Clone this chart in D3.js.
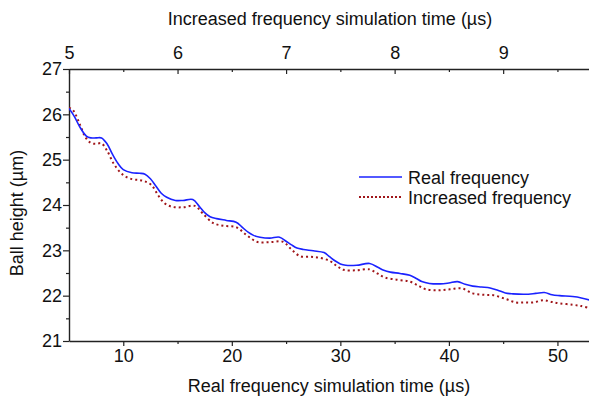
<!DOCTYPE html>
<html>
<head>
<meta charset="utf-8">
<script src="https://cdn.jsdelivr.net/npm/d3@7"></script>
<style>
  body { margin: 0; background: #fff; }
  svg { display: block; font-family: "Liberation Sans", Arial, sans-serif; }
</style>
</head>
<body>
<div id="chart"></div>
<script>
// real frequency run (blue, solid)
const realTime = [5.0, 5.5, 6.0, 6.6, 7.0, 7.5, 8.0, 8.5, 9.0, 9.5, 10.0, 10.8, 11.5, 12.0, 12.5, 13.0, 13.5, 14.0, 14.8, 15.5, 16.4, 17.0, 17.5, 18.0, 18.6, 19.5, 20.4, 21.0, 21.5, 22.0, 22.6, 23.5, 24.4, 25.0, 25.5, 26.0, 26.6, 27.5, 28.5, 29.0, 29.5, 30.0, 30.5, 31.5, 32.7, 33.5, 34.0, 34.6, 35.5, 36.4, 37.0, 37.5, 38.2, 39.2, 40.0, 40.8, 41.5, 42.2, 43.0, 43.8, 44.5, 45.2, 45.9, 47.0, 48.0, 48.8, 49.5, 50.2, 51.4, 52.2, 53.0]
const realHeight = [26.13, 25.95, 25.72, 25.52, 25.48, 25.48, 25.48, 25.35, 25.12, 24.92, 24.78, 24.71, 24.70, 24.68, 24.58, 24.42, 24.26, 24.17, 24.10, 24.10, 24.12, 23.97, 23.83, 23.74, 23.70, 23.66, 23.62, 23.50, 23.40, 23.33, 23.29, 23.27, 23.29, 23.20, 23.12, 23.05, 23.02, 22.99, 22.95, 22.86, 22.77, 22.70, 22.67, 22.67, 22.71, 22.62, 22.56, 22.52, 22.49, 22.45, 22.38, 22.31, 22.27, 22.26, 22.28, 22.31, 22.25, 22.21, 22.19, 22.17, 22.12, 22.06, 22.04, 22.03, 22.05, 22.07, 22.02, 22.00, 21.98, 21.95, 21.90]

// increased frequency run (dark red, dotted), plotted on the real time axis
const incTime = [5.0, 5.4, 6.0, 6.5, 7.0, 7.5, 8.0, 8.5, 9.2, 10.0, 10.8, 11.5, 12.0, 12.6, 13.2, 13.8, 14.5, 15.5, 16.6, 17.3, 18.3, 19.3, 20.4, 21.3, 22.3, 23.5, 24.7, 25.5, 26.3, 27.2, 28.0, 29.0, 29.7, 30.3, 31.5, 32.7, 33.4, 34.1, 35.3, 36.4, 37.2, 37.9, 39.0, 40.1, 41.2, 42.2, 43.2, 44.1, 45.2, 46.2, 47.0, 47.8, 48.7, 49.5, 50.2, 51.4, 52.2, 53.0]
const incHeight = [26.15, 26.08, 25.78, 25.50, 25.37, 25.35, 25.36, 25.20, 24.88, 24.66, 24.57, 24.55, 24.52, 24.44, 24.22, 24.04, 23.96, 23.95, 23.98, 23.82, 23.60, 23.54, 23.51, 23.35, 23.19, 23.18, 23.19, 23.02, 22.87, 22.86, 22.84, 22.77, 22.65, 22.57, 22.56, 22.58, 22.49, 22.40, 22.35, 22.31, 22.22, 22.14, 22.12, 22.14, 22.16, 22.05, 22.02, 22.01, 21.93, 21.85, 21.85, 21.85, 21.90, 21.86, 21.83, 21.80, 21.77, 21.72]

const bottomTicks = [10, 20, 30, 40, 50]
const bottomMinor = [15, 25, 35, 45]
const topTicks = [5, 6, 7, 8, 9]
const topMinor = [5.5, 6.5, 7.5, 8.5, 9.5]
const leftTicks = [21, 22, 23, 24, 25, 26, 27]
const leftMinor = [21.5, 22.5, 23.5, 24.5, 25.5, 26.5]

const seriesNames = ["Real frequency", "Increased frequency"]

const width = 589
const height = 399
const margin = {top: 69, right: -1, bottom: 58, left: 69}
const axisColor = "#222"
const fontSize = 18

const svg = d3.select("#chart")
  .append("svg")
  .attr("width", width)
  .attr("height", height)

const x = d3.scaleLinear()
  .domain([5, 53])
  .range([margin.left, width - margin.right])

// top axis: increased frequency time, 10x faster
const xTop = d3.scaleLinear()
  .domain([5, 9.8])
  .range([margin.left, width - margin.right])

const y = d3.scaleLinear()
  .domain([21, 27])
  .range([height - margin.bottom, margin.top])

function styleAxis(g){
  g.select(".domain").attr("stroke", axisColor).attr("stroke-width", 1.4)
  g.selectAll(".tick line").attr("stroke", axisColor).attr("stroke-width", 1.2)
  g.selectAll(".tick text").attr("fill", "#111").attr("font-size", fontSize)
    .attr("font-family", "Liberation Sans, Arial, sans-serif")
}

// bottom
svg.append("g")
  .attr("transform", `translate(0,${y(21)})`)
  .call(d3.axisBottom(x).tickValues(bottomMinor).tickSize(3).tickFormat(""))
  .call(g => g.select(".domain").remove())
  .call(styleAxis)
svg.append("g")
  .attr("transform", `translate(0,${y(21)})`)
  .call(d3.axisBottom(x).tickValues(bottomTicks).tickSize(5).tickSizeOuter(0).tickPadding(3))
  .call(styleAxis)

// top (ticks point inward)
svg.append("g")
  .attr("transform", `translate(0,${y(27)})`)
  .call(d3.axisBottom(xTop).tickValues(topMinor).tickSize(3).tickFormat(""))
  .call(g => g.select(".domain").remove())
  .call(styleAxis)
const topAxis = svg.append("g")
  .attr("transform", `translate(0,${y(27)})`)
  .call(d3.axisTop(xTop).tickValues(topTicks).tickSize(0).tickSizeOuter(0).tickPadding(10).tickFormat(d3.format("d")))
  .call(styleAxis)
topAxis.selectAll(".tick").append("line")
  .attr("y2", 5).attr("stroke", axisColor).attr("stroke-width", 1.2)

// left
svg.append("g")
  .attr("transform", `translate(${x(5)},0)`)
  .call(d3.axisLeft(y).tickValues(leftMinor).tickSize(3).tickFormat(""))
  .call(g => g.select(".domain").remove())
  .call(styleAxis)
svg.append("g")
  .attr("transform", `translate(${x(5)},0)`)
  .call(d3.axisLeft(y).tickValues(leftTicks).tickSize(6).tickSizeOuter(0).tickPadding(1).tickFormat(d3.format("d")))
  .call(styleAxis)

// titles
svg.append("text")
  .attr("x", 330)
  .attr("y", 25)
  .attr("text-anchor", "middle")
  .attr("font-size", fontSize)
  .attr("fill", "#111")
  .text("Increased frequency simulation time (\u00b5s)")

svg.append("text")
  .attr("x", 329)
  .attr("y", 392)
  .attr("text-anchor", "middle")
  .attr("font-size", fontSize)
  .attr("fill", "#111")
  .text("Real frequency simulation time (\u00b5s)")

svg.append("text")
  .attr("transform", `translate(23,213) rotate(-90)`)
  .attr("text-anchor", "middle")
  .attr("font-size", fontSize)
  .attr("fill", "#111")
  .text("Ball height (\u00b5m)")

// lines
const line = d3.line()
  .x(d => x(d[0]))
  .y(d => y(d[1]))
  .curve(d3.curveCatmullRom.alpha(0.5))

svg.append("clipPath").attr("id", "plot-clip")
  .append("rect")
  .attr("x", x(5)).attr("y", y(27))
  .attr("width", width - x(5)).attr("height", y(21) - y(27))

const plot = svg.append("g").attr("clip-path", "url(#plot-clip)")

plot.append("path")
  .datum(d3.zip(incTime, incHeight))
  .attr("fill", "none")
  .attr("stroke", "#a0161a")
  .attr("stroke-width", 2)
  .attr("stroke-dasharray", "2,3")
  .attr("d", line)

plot.append("path")
  .datum(d3.zip(realTime, realHeight))
  .attr("fill", "none")
  .attr("stroke", "#1a22ff")
  .attr("stroke-width", 1.6)
  .attr("d", line)

// legend
const legend = svg.append("g").attr("transform", "translate(359,177)")
const legendStyles = [
  {stroke: "#1a22ff", dash: null, w: 1.6},
  {stroke: "#a0161a", dash: "2,2", w: 2}
]
seriesNames.forEach((name, i) => {
  const row = legend.append("g").attr("transform", `translate(0,${i * 20})`)
  row.append("line")
    .attr("x1", 0).attr("x2", 43)
    .attr("stroke", legendStyles[i].stroke)
    .attr("stroke-width", legendStyles[i].w)
    .attr("stroke-dasharray", legendStyles[i].dash)
  row.append("text")
    .attr("x", 49).attr("y", 6.5)
    .attr("font-size", fontSize)
    .attr("fill", "#111")
    .text(name)
})
</script>
</body>
</html>
